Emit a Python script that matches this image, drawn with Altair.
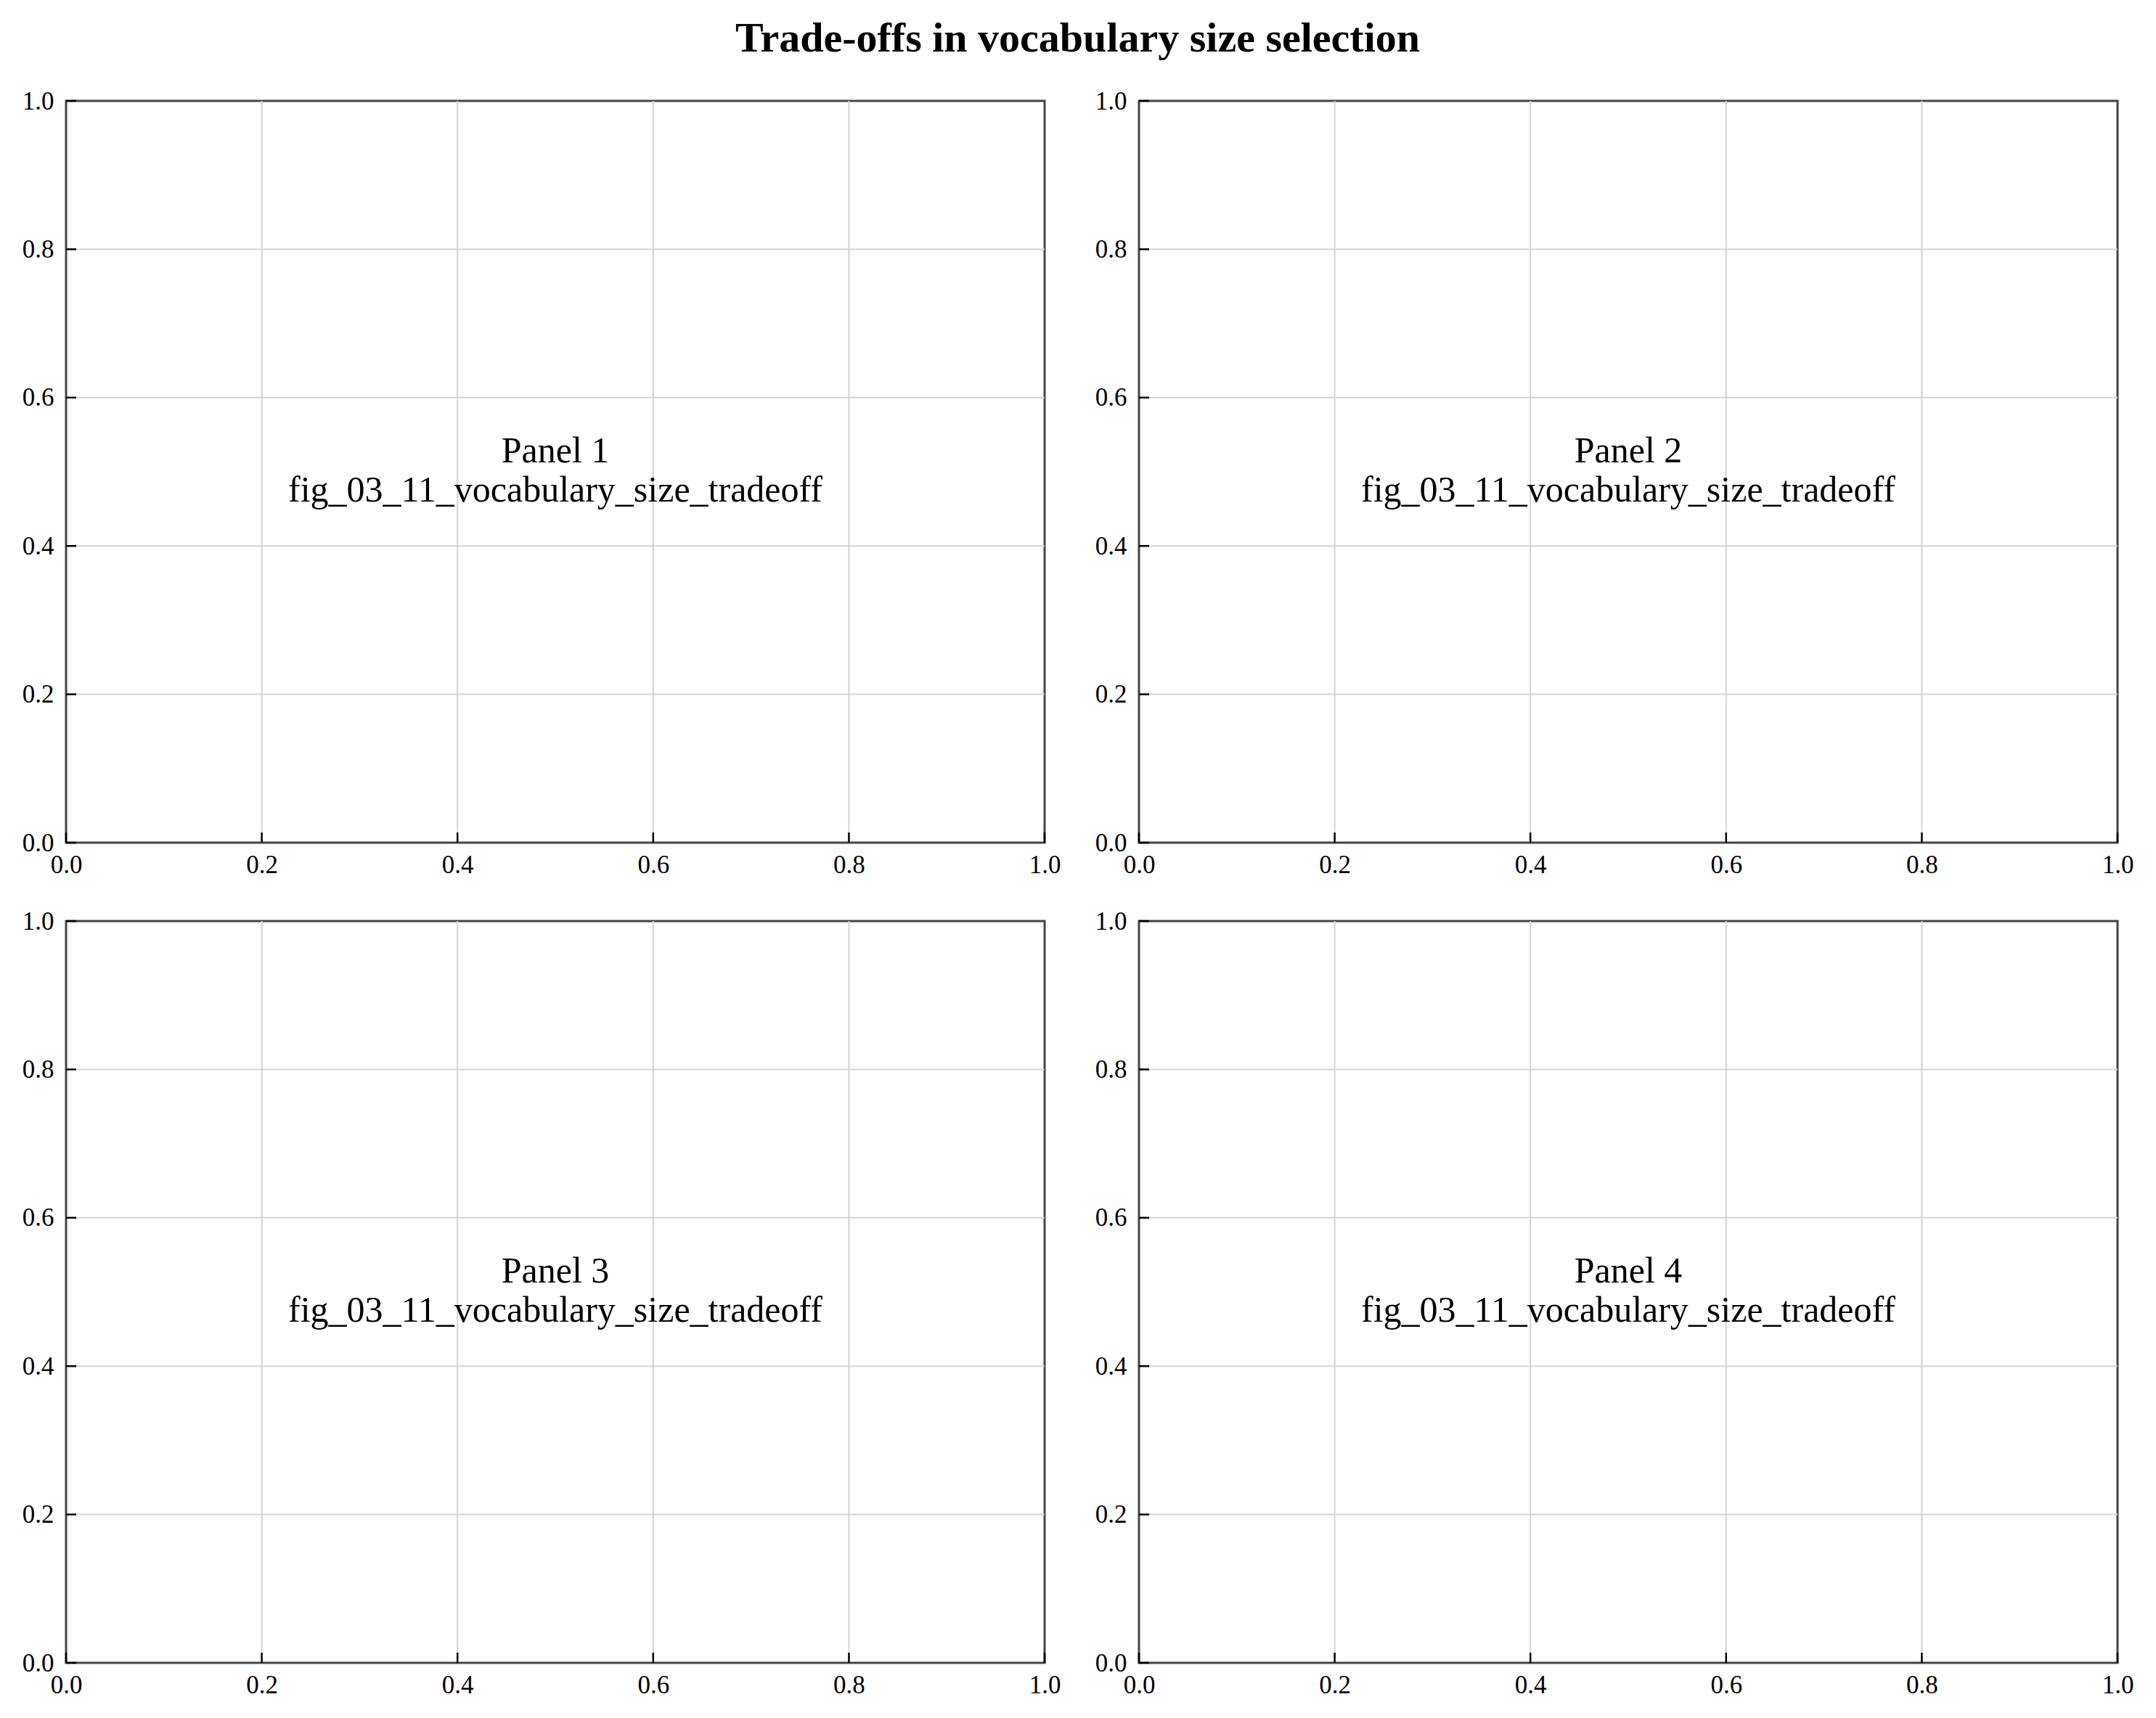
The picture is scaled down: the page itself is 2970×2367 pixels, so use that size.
import altair as alt
import pandas as pd

# values
tick_values = [0.0, 0.2, 0.4, 0.6, 0.8, 1.0]
grid_values = [0.2, 0.4, 0.6, 0.8]
panel_names = ["Panel 1", "Panel 2", "Panel 3", "Panel 4"]
figure_name = "fig_03_11_vocabulary_size_tradeoff"
label_x = [0.5, 0.5, 0.5, 0.5]
label_y = [0.5, 0.5, 0.5, 0.5]
chart_title = "Trade-offs in vocabulary size selection"

FONT = "Liberation Serif"
W, H = 1348, 1022
TICK_LEN = 14

ticks_df = pd.DataFrame({"v": tick_values})
grid_df = pd.DataFrame({"v": grid_values})


def make_panel(i):
    text_df = pd.DataFrame({
        "x": [label_x[i]],
        "y": [label_y[i]],
        "label": [panel_names[i] + "\n" + figure_name],
    })
    xs = alt.Scale(domain=[0, 1], nice=False, zero=False)
    ys = alt.Scale(domain=[0, 1], nice=False, zero=False)
    x_axis = alt.Axis(values=tick_values, format=".1f", labelPadding=13)
    y_axis = alt.Axis(values=tick_values, format=".1f", labelPadding=17)

    # light grid at the inner tick positions (kept off the frame)
    xgrid = (
        alt.Chart(grid_df)
        .mark_rule(color="#d4d4d4", strokeWidth=2)
        .encode(x=alt.X("v:Q", scale=xs, title=None, axis=x_axis))
    )
    ygrid = (
        alt.Chart(grid_df)
        .mark_rule(color="#d4d4d4", strokeWidth=2)
        .encode(y=alt.Y("v:Q", scale=ys, title=None, axis=y_axis))
    )

    text = (
        alt.Chart(text_df)
        .mark_text(font=FONT, fontSize=50, lineBreak="\n", lineHeight=54, dy=-28,
                   align="center", baseline="middle", color="black")
        .encode(
            x=alt.X("x:Q", scale=xs, title=None, axis=x_axis),
            y=alt.Y("y:Q", scale=ys, title=None, axis=y_axis),
            text="label:N",
        )
    )

    # inward ticks on the bottom and left edges
    xticks = (
        alt.Chart(ticks_df)
        .mark_rule(color="black", strokeWidth=2.5)
        .encode(x=alt.X("v:Q", scale=xs, title=None, axis=x_axis),
                y=alt.value(H), y2=alt.value(H - TICK_LEN))
    )
    yticks = (
        alt.Chart(ticks_df)
        .mark_rule(color="black", strokeWidth=2.5)
        .encode(y=alt.Y("v:Q", scale=ys, title=None, axis=y_axis),
                x=alt.value(0), x2=alt.value(TICK_LEN))
    )
    return alt.layer(xgrid, ygrid, text, xticks, yticks).properties(width=W, height=H)


top_row = alt.hconcat(make_panel(0), make_panel(1), spacing=43)
bottom_row = alt.hconcat(make_panel(2), make_panel(3), spacing=43)

chart = (
    alt.vconcat(top_row, bottom_row, spacing=39)
    .properties(
        title=alt.TitleParams(chart_title, font=FONT, fontSize=58, fontWeight="bold",
                              color="black", anchor="middle", offset=38),
        padding={"left": 20, "top": 16, "right": 10, "bottom": 10},
    )
    .configure_view(stroke="#444444", strokeWidth=3)
    .configure_axis(
        labelFont=FONT, labelFontSize=35, labelColor="black",
        grid=False, ticks=False, domain=False, labelFlush=False, labelOverlap=False,
    )
)

chart.save("out.html", embed_options={"renderer": "svg", "actions": False})
